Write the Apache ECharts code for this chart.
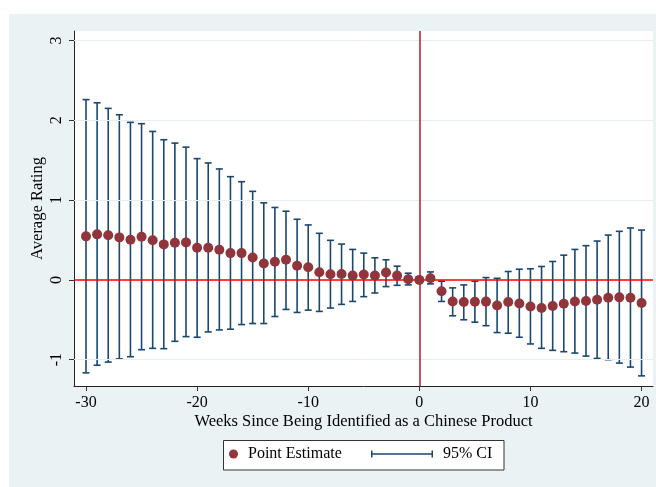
<!DOCTYPE html>
<html><head><meta charset="utf-8">
<script src="https://cdn.jsdelivr.net/npm/echarts@6/dist/echarts.min.js"></script>
<style>html,body{margin:0;padding:0;background:#fff}#c{width:656px;height:487px}</style>
</head><body><div id="c"></div>
<script>
const weeks = [];
for (let w = -30; w <= 20; w++) weeks.push(w);
const estimate = [0.546, 0.571, 0.559, 0.533, 0.504, 0.542, 0.496, 0.445, 0.466, 0.470,
  0.403, 0.403, 0.378, 0.336, 0.336, 0.281, 0.206, 0.227, 0.252, 0.177,
  0.159, 0.096, 0.071, 0.075, 0.054, 0.067, 0.054, 0.092, 0.054, 0.008,
  0,
  0.02, -0.143, -0.27, -0.277, -0.274, -0.272, -0.32, -0.277, -0.295, -0.333,
  -0.353, -0.328, -0.299, -0.27, -0.265, -0.248, -0.223, -0.219, -0.223, -0.29];
const ciHigh = [2.26, 2.22, 2.15, 2.07, 1.975, 1.958, 1.861, 1.757, 1.715, 1.664,
  1.52, 1.466, 1.391, 1.294, 1.231, 1.11, 0.966, 0.908, 0.861, 0.76,
  0.689, 0.584, 0.496, 0.449, 0.382, 0.336, 0.277, 0.252, 0.172, 0.084,
  null,
  0.10, -0.017, -0.10, -0.063, -0.017, 0.029, 0.02, 0.105, 0.134, 0.139,
  0.168, 0.231, 0.31, 0.382, 0.429, 0.487, 0.562, 0.609, 0.651, 0.625];
const ciLow = [-1.165, -1.07, -1.03, -0.99, -0.963, -0.875, -0.858, -0.862, -0.77, -0.711,
  -0.719, -0.652, -0.627, -0.618, -0.56, -0.547, -0.547, -0.459, -0.37, -0.408,
  -0.379, -0.395, -0.353, -0.307, -0.27, -0.21, -0.164, -0.084, -0.068, -0.063,
  null,
  -0.05, -0.27, -0.45, -0.50, -0.53, -0.574, -0.66, -0.668, -0.719, -0.803,
  -0.858, -0.883, -0.90, -0.917, -0.955, -0.984, -1.0, -1.043, -1.093, -1.203];
const xTicks = [-30, -20, -10, 0, 10, 20];
const yTicks = [-1, 0, 1, 2, 3];
const gridLineValues = [-1, 1, 2, 3];

const NAVY = '#1a476f', MAROON = '#90353b', FONT = 'Liberation Serif';
const chart = echarts.init(document.getElementById('c'), null, {renderer: 'canvas'});

const ciData = [];
weeks.forEach((w, i) => { if (ciLow[i] != null && ciHigh[i] != null) ciData.push([w, ciLow[i], ciHigh[i]]); });

const option = {
  backgroundColor: '#eaf2f3',
  animation: false,
  textStyle: {fontFamily: FONT},
  graphic: [
    {type: 'rect', left: 0, top: 0, shape: {width: 656, height: 14}, style: {fill: '#fff'}, silent: true},
    {type: 'rect', left: 0, top: 0, shape: {width: 9, height: 487}, style: {fill: '#fff'}, silent: true},
    {type: 'rect', x: 223.5, y: 440.5, shape: {width: 280.5, height: 29.5}, style: {fill: '#fff', stroke: '#333', lineWidth: 1}, silent: true}
  ],
  grid: {left: 74, right: 3, top: 31, bottom: 101, show: true, backgroundColor: '#fff', borderWidth: 0, containLabel: false, outerBoundsMode: 'none'},
  xAxis: {
    type: 'value', min: -31.08, max: 21.03,
    axisLine: {show: true, onZero: false, lineStyle: {color: '#222', width: 1}},
    axisTick: {show: true, customValues: xTicks, length: 5, lineStyle: {color: '#333'}},
    axisLabel: {customValues: xTicks, fontFamily: FONT, fontSize: 16, color: '#000', margin: 9},
    splitLine: {show: false},
    name: 'Weeks Since Being Identified as a Chinese Product',
    nameLocation: 'middle', nameGap: 27, nameMoveOverlap: false,
    nameTextStyle: {fontFamily: FONT, fontSize: 16.5, color: '#000'}
  },
  yAxis: {
    type: 'value', min: -1.33, max: 3.12,
    axisLine: {show: true, onZero: false, lineStyle: {color: '#222', width: 1}},
    axisTick: {show: true, customValues: yTicks, length: 5, lineStyle: {color: '#333'}},
    axisLabel: {customValues: yTicks, fontFamily: FONT, fontSize: 16, color: '#000', margin: 9, rotate: 90},
    splitLine: {show: false},
    name: 'Average Rating',
    nameLocation: 'middle', nameGap: 28, nameMoveOverlap: false,
    nameTextStyle: {fontFamily: FONT, fontSize: 16.5, color: '#000'}
  },
  legend: [
    {data: [{name: 'Point Estimate', icon: 'circle'}], left: 229, top: 446, padding: 0,
     itemWidth: 9, itemHeight: 9, selectedMode: false, z: 20,
     textStyle: {fontFamily: FONT, fontSize: 16, color: '#000', padding: [0, 0, 0, 5]}},
    {data: [{name: '95% CI', icon: 'path://M0,0h1.5v7h-1.5z M0,2.75h62v1.5h-62z M60.5,0h1.5v7h-1.5z'}],
     left: 371, top: 446, padding: 0, itemWidth: 62, itemHeight: 7, selectedMode: false, z: 20,
     textStyle: {fontFamily: FONT, fontSize: 16, color: '#000', padding: [0, 0, 0, 5]}}
  ],
  series: [
    {
      type: 'line', data: [], z: 1, silent: true,
      markLine: {silent: true, symbol: 'none', label: {show: false}, animation: false,
        lineStyle: {color: '#e6eeef', width: 1, type: 'solid'},
        data: gridLineValues.map(v => ({yAxis: v}))}
    },
    {
      name: '95% CI', type: 'custom', z: 2,
      itemStyle: {color: NAVY},
      encode: {x: 0, y: [1, 2]},
      data: ciData,
      renderItem: function (params, api) {
        const x = api.value(0), lo = api.value(1), hi = api.value(2);
        const pHi = api.coord([x, hi]), pLo = api.coord([x, lo]);
        const w = 3.5, st = {stroke: NAVY, lineWidth: 1.6};
        return {type: 'group', children: [
          {type: 'line', shape: {x1: pHi[0], y1: pHi[1], x2: pLo[0], y2: pLo[1]}, style: st},
          {type: 'line', shape: {x1: pHi[0] - w, y1: pHi[1], x2: pHi[0] + w, y2: pHi[1]}, style: st},
          {type: 'line', shape: {x1: pLo[0] - w, y1: pLo[1], x2: pLo[0] + w, y2: pLo[1]}, style: st}
        ]};
      },
      markLine: {silent: true, symbol: 'none', label: {show: false}, animation: false,
        data: [
          {yAxis: 0, lineStyle: {color: '#ff0000', width: 1.5, type: 'solid'}},
          {xAxis: 0, lineStyle: {color: '#b5173c', width: 1.5, type: 'solid'}}
        ]}
    },
    {
      name: 'Point Estimate', type: 'scatter', z: 5,
      symbol: 'circle', symbolSize: 10,
      itemStyle: {color: MAROON, opacity: 1},
      data: weeks.map((w, i) => [w, estimate[i]])
    }
  ]
};
chart.setOption(option);
</script></body></html>
